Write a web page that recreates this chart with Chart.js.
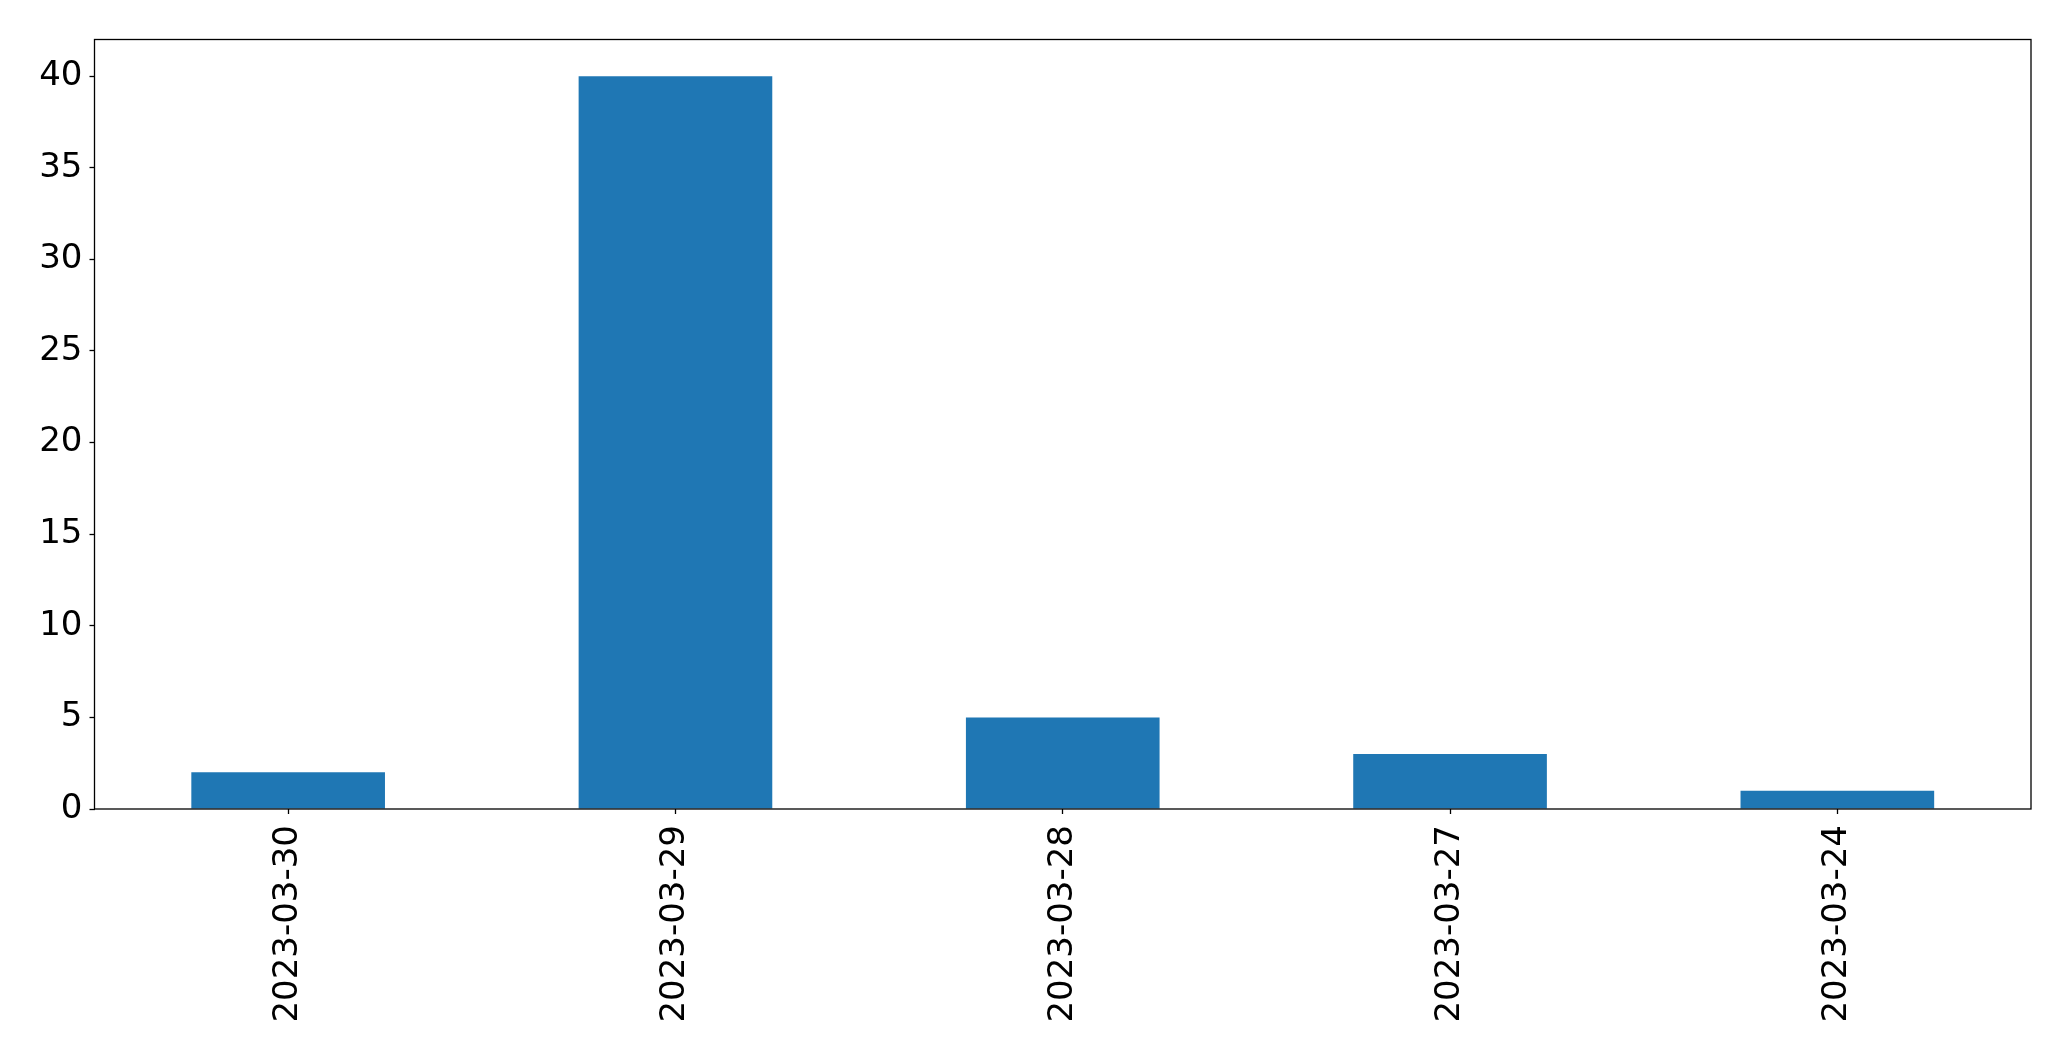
<!DOCTYPE html>
<html>
<head>
<meta charset="utf-8">
<script src="https://cdn.jsdelivr.net/npm/chart.js@4"></script>
<style>
  html, body { margin: 0; padding: 0; background: #fff; }
  #wrap { width: 2071px; height: 1061px; position: relative; }
</style>
</head>
<body>
<div id="wrap"><canvas id="myChart"></canvas></div>
<script>
// data
var dates = ["2023-03-30", "2023-03-29", "2023-03-28", "2023-03-27", "2023-03-24"];
var counts = [2, 40, 5, 3, 1];
var yTicks = [0, 5, 10, 15, 20, 25, 30, 35, 40];

// black box round the plot area, like matplotlib's spines
var frame = {
    id: 'frame',
    afterDraw: function(chart) {
        var a = chart.chartArea, c = chart.ctx;
        c.save();
        c.strokeStyle = '#000';
        c.lineWidth = 1.3;
        c.strokeRect(a.left, a.top, a.right - a.left, a.bottom - a.top);
        c.restore();
    }
};

var tickFont = { family: 'DejaVu Sans', size: 34 };

var ctx = document.getElementById('myChart').getContext('2d');
var chart = new Chart(ctx, {
    type: 'bar',
    data: {
        labels: dates,
        datasets: [{
            data: counts,
            backgroundColor: '#1f77b4',
            borderWidth: 0,
            barPercentage: 0.5,
            categoryPercentage: 1.0
        }]
    },
    options: {
        responsive: true,
        maintainAspectRatio: false,
        animation: false,
        layout: { padding: { left: 0, top: 39.5, right: 40, bottom: 0 } },
        plugins: { legend: { display: false }, tooltip: { enabled: false } },
        scales: {
            x: {
                offset: true,
                border: { display: false },
                grid: { display: true, offset: false, drawOnChartArea: false, tickLength: 5, tickColor: '#000', tickWidth: 1.3 },
                ticks: { color: '#000', font: tickFont, minRotation: 90, maxRotation: 90, padding: 11, autoSkip: false },
                afterFit: function(s) { s.height = 252; }
            },
            y: {
                min: 0,
                max: 42,
                border: { display: false },
                grid: { display: true, drawOnChartArea: false, tickLength: 5, tickColor: '#000', tickWidth: 1.3 },
                ticks: { color: '#000', font: tickFont, stepSize: 5, padding: 7 },
                afterBuildTicks: function(s) {
                    s.ticks = yTicks.map(function(v) { return { value: v }; });
                },
                afterFit: function(s) { s.width = 94.5; }
            }
        }
    },
    plugins: [frame]
});
</script>
</body>
</html>
